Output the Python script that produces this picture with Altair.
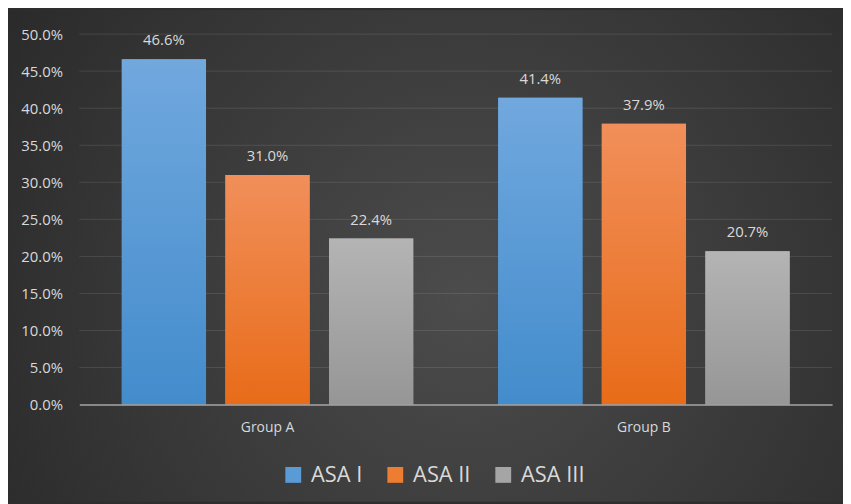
import altair as alt
import pandas as pd

groups = ["Group A", "Group B"]
series = ["ASA I", "ASA II", "ASA III"]
values_a = [0.466, 0.310, 0.224]
values_b = [0.414, 0.379, 0.207]
tick_values = [0.0, 0.05, 0.10, 0.15, 0.20, 0.25, 0.30, 0.35, 0.40, 0.45, 0.50]

solid_colors = ["#5b9bd5", "#ed7d31", "#a5a5a5"]
grad_top = ["#71a8de", "#f18f5a", "#b4b4b4"]
grad_bottom = ["#438ccc", "#e86c19", "#969696"]

rows = []
for g, vals in zip(groups, [values_a, values_b]):
    for s, v in zip(series, vals):
        rows.append({"group": g, "series": s, "value": v})
df = pd.DataFrame(rows)

W, H = 760, 374
PAD = {"left": 72, "top": 24, "right": 11, "bottom": 98}
FONT = "Open Sans"
TXT = "#d9d9d9"

bg = alt.Chart(alt.Data(values=[{}])).mark_rect(
    fill=alt.Gradient(
        gradient="radial", x1=0.55, y1=0.55, x2=0.55, y2=0.55, r1=0, r2=0.75,
        stops=[alt.GradientStop(offset=0, color="#4c4c4c"),
               alt.GradientStop(offset=1, color="#252525")]),
    clip=False,
).encode(
    x=alt.value(-PAD["left"]), x2=alt.value(W + PAD["right"]),
    y=alt.value(-PAD["top"]), y2=alt.value(H + PAD["bottom"]),
)

yaxis = alt.Axis(values=tick_values, format=".1%", title=None, grid=False,
                 ticks=False, domain=False, labelFontSize=15, labelColor=TXT,
                 labelFont=FONT, labelPadding=17, labelOverlap=False, tickCount=11, zindex=1)
yscale = alt.Scale(domain=[0, 0.5], nice=False)

def ydef():
    return alt.Y("value:Q", scale=yscale, axis=yaxis)

grid = alt.Chart(pd.DataFrame({"value": tick_values[1:]})).mark_rule(
    stroke="#ffffff", strokeOpacity=0.11, strokeWidth=1
).encode(y=ydef(), x=alt.value(0), x2=alt.value(W))

xaxis = alt.Axis(title=None, labelAngle=0, ticks=False, domain=True,
                 domainColor="#a6a6a6", domainWidth=1.5, labelFontSize=14,
                 labelColor=TXT, labelFont=FONT, labelPadding=16, zindex=1)
xscale = alt.Scale(domain=groups, paddingInner=0, paddingOuter=0)

def xdef():
    return alt.X("group:N", scale=xscale, axis=xaxis)

def xoff():
    return alt.XOffset("series:N", scale=alt.Scale(domain=series, paddingInner=0.187, paddingOuter=0.41))

base = alt.Chart(df)

bars = base.mark_bar().encode(
    x=xdef(), xOffset=xoff(), y=ydef(),
    color=alt.Color("series:N", scale=alt.Scale(domain=series, range=solid_colors),
                    legend=alt.Legend(orient="none", direction="horizontal", title=None,
                                      legendX=205, legendY=434, symbolType="square",
                                      symbolSize=256, symbolStrokeWidth=0,
                                      symbolOpacity=1,
                                      labelFontSize=22, labelFont=FONT, labelColor=TXT,
                                      labelOffset=7, columnPadding=22)),
)

grad_layers = []
for s, top, bot in zip(series, grad_top, grad_bottom):
    grad_layers.append(
        base.transform_filter(alt.datum.series == s).mark_bar(
            fill=alt.Gradient(gradient="linear", x1=0, y1=0, x2=0, y2=1,
                              stops=[alt.GradientStop(offset=0, color=top),
                                     alt.GradientStop(offset=1, color=bot)])
        ).encode(x=xdef(), xOffset=xoff(), y=ydef())
    )

labels = base.mark_text(fontSize=15, font=FONT, color=TXT, baseline="middle", dy=-19).encode(
    x=xdef(), xOffset=xoff(), y=ydef(), text=alt.Text("value:Q", format=".1%")
)

chart = alt.layer(bg, grid, bars, *grad_layers, labels).properties(
    width=W, height=H, padding=PAD, autosize=alt.AutoSizeParams(type="none"),
    background="#2e2e2e",
).configure_view(stroke=None).configure_axisY(labelOverlap=False)

chart.save("out.html", embed_options={"renderer": "svg", "actions": False})
